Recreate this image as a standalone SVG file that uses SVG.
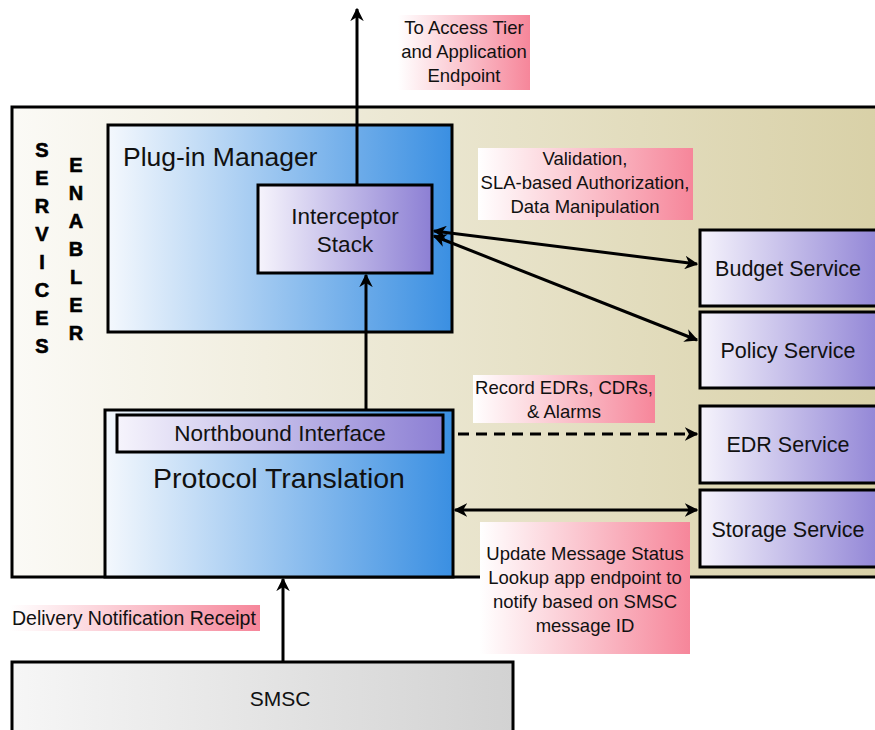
<svg xmlns="http://www.w3.org/2000/svg" width="875" height="730" viewBox="0 0 875 730">
<defs>
<linearGradient id="gTan" x1="0" y1="0" x2="1" y2="0"><stop offset="0" stop-color="#fbfaf6"/><stop offset="1" stop-color="#d8d0a6"/></linearGradient>
<linearGradient id="gBlue" x1="0" y1="0" x2="1" y2="0"><stop offset="0" stop-color="#f4f8fd"/><stop offset="1" stop-color="#3a8fe2"/></linearGradient>
<linearGradient id="gPurple" x1="0" y1="0" x2="1" y2="0"><stop offset="0" stop-color="#f6f4fc"/><stop offset="1" stop-color="#8c7fd4"/></linearGradient>
<linearGradient id="gPink" x1="0" y1="0" x2="1" y2="0"><stop offset="0" stop-color="#ffffff"/><stop offset="1" stop-color="#f6869a"/></linearGradient>
<linearGradient id="gGray" x1="0" y1="0" x2="1" y2="0"><stop offset="0" stop-color="#f6f6f6"/><stop offset="1" stop-color="#d2d2d2"/></linearGradient>
<marker id="ah" viewBox="0 0 10 10" refX="9" refY="5" markerWidth="4.5" markerHeight="4.5" orient="auto-start-reverse" markerUnits="strokeWidth"><path d="M0,0 L10,5 L0,10 L3,5 z" fill="#000"/></marker>
</defs>
<style>
.box{stroke:#000;stroke-width:3}
.t{font-family:"Liberation Sans",Arial,sans-serif;fill:#111}
.lbl{font-size:18.5px;text-anchor:middle}
.svc{font-size:21.5px;text-anchor:middle}
.vert{font-family:"Liberation Sans",Arial,sans-serif;font-weight:bold;font-size:20px;text-anchor:middle;fill:#000;stroke:#000;stroke-width:0.6}
.c{stroke:#000;stroke-width:3;fill:none}
</style>
<rect width="875" height="730" fill="#fff"/>
<g id="servicesEnabler">
<rect class="box" x="12" y="107" width="880" height="470" fill="url(#gTan)"/>
<g class="vert">
<text x="42" y="157">S</text><text x="42" y="185">E</text><text x="42" y="213">R</text><text x="42" y="241">V</text><text x="42" y="269">I</text><text x="42" y="297">C</text><text x="42" y="325">E</text><text x="42" y="353">S</text>
<text x="76" y="172">E</text><text x="76" y="200">N</text><text x="76" y="228">A</text><text x="76" y="256">B</text><text x="76" y="284">L</text><text x="76" y="312">E</text><text x="76" y="340">R</text>
</g>
</g>
<g id="pluginManager">
<rect class="box" x="108" y="125" width="344" height="207" fill="url(#gBlue)"/>
<text class="t" x="123" y="166" font-size="26.5">Plug-in Manager</text>
</g>
<g id="interceptorStack">
<rect class="box" x="258" y="185" width="174" height="88" fill="url(#gPurple)"/>
<text class="t" x="345" y="224" font-size="22.5" text-anchor="middle">Interceptor</text>
<text class="t" x="345" y="252" font-size="22.5" text-anchor="middle">Stack</text>
</g>
<g id="protocolTranslation">
<rect class="box" x="105" y="410" width="348" height="167" fill="url(#gBlue)"/>
<text class="t" x="279" y="488" font-size="28.5" text-anchor="middle">Protocol Translation</text>
</g>
<g id="northbound">
<rect class="box" x="117" y="415" width="326" height="37" fill="url(#gPurple)"/>
<text class="t" x="280" y="441" font-size="22.5" text-anchor="middle">Northbound Interface</text>
</g>
<g id="budget">
<rect class="box" x="700" y="230" width="190" height="76" fill="url(#gPurple)"/>
<text class="t svc" x="788" y="276">Budget Service</text>
</g>
<g id="policy">
<rect class="box" x="700" y="312" width="190" height="76" fill="url(#gPurple)"/>
<text class="t svc" x="788" y="358">Policy Service</text>
</g>
<g id="edr">
<rect class="box" x="700" y="406" width="190" height="77" fill="url(#gPurple)"/>
<text class="t svc" x="788" y="452">EDR Service</text>
</g>
<g id="storage">
<rect class="box" x="700" y="490" width="190" height="77" fill="url(#gPurple)"/>
<text class="t svc" x="788" y="537">Storage Service</text>
</g>
<g id="smsc">
<rect class="box" x="12" y="662" width="501" height="80" fill="url(#gGray)"/>
<text class="t" x="280" y="706" font-size="21" text-anchor="middle">SMSC</text>
</g>
<g id="connectors">
<line class="c" x1="357" y1="185" x2="357" y2="9" marker-end="url(#ah)"/>
<line class="c" x1="366" y1="410" x2="366" y2="275" marker-end="url(#ah)"/>
<line class="c" x1="434" y1="231" x2="697" y2="264" marker-start="url(#ah)" marker-end="url(#ah)"/>
<line class="c" x1="434" y1="236" x2="697" y2="340" marker-start="url(#ah)" marker-end="url(#ah)"/>
<line class="c" x1="458" y1="434" x2="697" y2="434" stroke-dasharray="11 7" marker-end="url(#ah)"/>
<line class="c" x1="455" y1="510" x2="697" y2="510" marker-start="url(#ah)" marker-end="url(#ah)"/>
<line class="c" x1="283" y1="662" x2="283" y2="579" marker-end="url(#ah)"/>
</g>
<g id="labels">
<rect x="398" y="15" width="132" height="75" fill="url(#gPink)"/>
<text class="t lbl" x="464" y="34">To Access Tier</text>
<text class="t lbl" x="464" y="58">and Application</text>
<text class="t lbl" x="464" y="82">Endpoint</text>
<rect x="478" y="148" width="215" height="72" fill="url(#gPink)"/>
<text class="t lbl" x="585" y="165">Validation,</text>
<text class="t lbl" x="585" y="189">SLA-based Authorization,</text>
<text class="t lbl" x="585" y="213">Data Manipulation</text>
<rect x="473" y="375" width="182" height="48" fill="url(#gPink)"/>
<text class="t lbl" x="564" y="394">Record EDRs, CDRs,</text>
<text class="t lbl" x="564" y="418">&amp; Alarms</text>
<rect x="480" y="522" width="210" height="132" fill="url(#gPink)"/>
<text class="t lbl" x="585" y="560">Update Message Status</text>
<text class="t lbl" x="585" y="584">Lookup app endpoint to</text>
<text class="t lbl" x="585" y="608">notify based on SMSC</text>
<text class="t lbl" x="585" y="632">message ID</text>
<rect x="10" y="605" width="250" height="26" fill="url(#gPink)"/>
<text class="t" x="12" y="625" font-size="19.5">Delivery Notification Receipt</text>
</g>
</svg>
